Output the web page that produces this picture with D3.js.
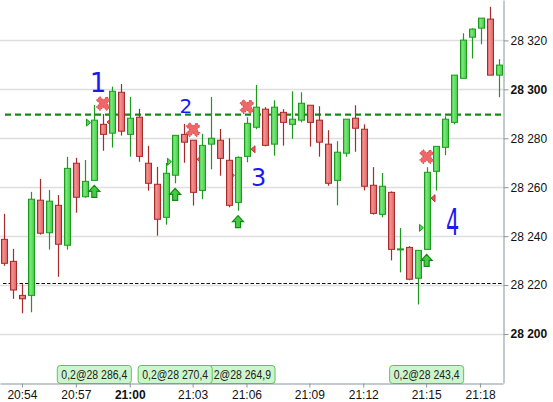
<!DOCTYPE html>
<html><head><meta charset="utf-8">
<script src="https://cdn.jsdelivr.net/npm/d3@7"></script>
<style>html,body{margin:0;padding:0;background:#fff;overflow:hidden}text{font-family:"Liberation Sans",Arial,sans-serif}</style>
</head><body><svg id="c" width="553" height="402"></svg>
<script>
// ---- data ----
const openP = [
28238.7, 28229.7, 28215.8, 28215.8, 28254.7, 28241.4, 28252.6, 28236.3, 28269.8, 28256.1,
28262.8, 28285.7, 28282.1, 28298.8, 28281.6, 28288.6, 28269.8, 28261.2, 28247.7, 28264.9,
28281.6, 28279.2, 28258.7, 28277.6, 28279.2, 28271.0, 28253.8, 28272.6, 28284.5, 28291.9,
28277.6, 28290.6, 28285.7, 28287.4, 28293.5, 28287.4, 28277.6, 28262.8, 28273.9, 28288.2,
28283.7, 28260.8, 28248.9, 28257.9, 28234.7, 28235.4, 28222.8, 28234.6, 28266.5, 28276.3,
28286.5, 28304.5, 28321.3, 28325.0, 28328.7, 28305.8];
const closeP = [
28228.9, 28218.0, 28214.4, 28255.1, 28241.2, 28254.3, 28236.7, 28267.7, 28255.9, 28262.4,
28287.4, 28281.6, 28299.2, 28282.9, 28288.2, 28272.6, 28261.6, 28246.9, 28265.7, 28281.2,
28278.4, 28257.9, 28277.1, 28280.0, 28271.8, 28252.6, 28272.2, 28286.1, 28292.7, 28277.1,
28292.7, 28286.5, 28287.8, 28294.3, 28286.5, 28278.4, 28261.6, 28274.3, 28287.8, 28284.1,
28260.4, 28249.3, 28260.4, 28234.6, 28234.8, 28222.4, 28234.2, 28266.1, 28276.7, 28287.8,
28305.8, 28320.1, 28324.6, 28329.1, 28305.8, 28309.9];
const highP = [
28249.1, 28234.8, 28220.4, 28258.1, 28263.4, 28258.9, 28256.8, 28272.4, 28272.0, 28271.1,
28293.6, 28289.9, 28301.1, 28302.2, 28296.9, 28292.0, 28276.9, 28268.3, 28269.9, 28281.2,
28285.9, 28279.2, 28281.8, 28296.9, 28283.8, 28280.0, 28272.6, 28288.6, 28301.8, 28292.7,
28295.5, 28291.9, 28299.2, 28298.8, 28293.5, 28293.1, 28283.3, 28278.8, 28287.8, 28293.5,
28285.7, 28268.2, 28265.8, 28258.3, 28243.3, 28235.9, 28234.2, 28268.2, 28276.7, 28289.0,
28305.8, 28322.9, 28325.0, 28329.1, 28333.7, 28312.3];
const lowP = [
28227.9, 28214.4, 28208.5, 28208.9, 28240.6, 28234.5, 28223.4, 28234.5, 28249.6, 28255.7,
28262.8, 28274.9, 28276.2, 28281.1, 28272.5, 28270.4, 28258.6, 28240.2, 28244.7, 28261.6,
28270.0, 28252.5, 28255.1, 28267.3, 28264.7, 28251.8, 28250.4, 28270.2, 28283.7, 28276.7,
28272.9, 28277.0, 28279.8, 28286.5, 28276.6, 28272.5, 28260.6, 28252.6, 28272.5, 28274.5,
28258.7, 28248.8, 28247.7, 28230.1, 28225.2, 28222.0, 28212.1, 28234.6, 28258.7, 28273.1,
28285.7, 28304.5, 28312.6, 28318.4, 28305.8, 28296.8];

const tickIdx = [2, 8, 14, 21, 27, 34, 40, 47, 53];
const tickLabels = ["20:54", "20:57", "21:00", "21:03", "21:06", "21:09", "21:12", "21:15", "21:18"];
const yTicks = [28200, 28220, 28240, 28260, 28280, 28300, 28320];

const entryIdx = [10, 19, 26, 47];
const entryPrice = [28286.4, 28270.4, 28264.9, 28243.4];
const exitIdx = [11, 21, 27, 47];
const exitPrice = [28286.6, 28271.4, 28275.5, 28255.5];
const tradeQty = ["0,2", "0,2", "0,2", "0,2"];

const greenLevel = 28289.7;
const blackLevel = 28220.7;

const noteText = ["1", "2", "3", "4"];
const noteIdx = [10.4, 20.2, 28.3, 49.9];
const notePrice = [28298.9, 28290.4, 28260.5, 28240.5];

// ---- chart ----
const plotR = 503, plotB = 383;
const svg = d3.select("#c");
const n = openP.length;
const x = d3.scaleBand().domain(d3.range(n)).range([0, plotR]).paddingInner(0.33).paddingOuter(0.165);
const cx = i => x(i) + x.bandwidth() / 2;
const fx = v => x.step() * (v + 0.5);
const y = d3.scaleLinear().domain([28180, 28336.5]).range([plotB, 0]);
const loc = d3.formatLocale({decimal: ",", thousands: " ", grouping: [3], currency: ["", ""]});
const fmtTick = loc.format(",");
const fmtPrice = loc.format(",.1f");

const defs = svg.append("defs");
function grad(id, c1, c2) {
  const g = defs.append("linearGradient").attr("id", id).attr("x1", 0).attr("x2", 1).attr("y1", 0).attr("y2", 0);
  g.append("stop").attr("offset", 0).attr("stop-color", c2);
  g.append("stop").attr("offset", 0.35).attr("stop-color", c1);
  g.append("stop").attr("offset", 1).attr("stop-color", c2);
}
grad("gUp", "#78e878", "#44c944");
grad("gDn", "#f29090", "#e06060");

// gridlines
svg.append("g").selectAll("line").data(yTicks).join("line")
  .attr("x1", 0).attr("x2", plotR)
  .attr("y1", d => Math.round(y(d)) + 0.5).attr("y2", d => Math.round(y(d)) + 0.5)
  .attr("stroke", "#dedede").attr("stroke-width", 1.5);

// level lines
svg.append("line").attr("x1", 5).attr("x2", plotR).attr("y1", y(greenLevel)).attr("y2", y(greenLevel))
  .attr("stroke", "#148a14").attr("stroke-width", 2.2).attr("stroke-dasharray", "6,4");
svg.append("line").attr("x1", 3).attr("x2", plotR).attr("y1", Math.round(y(blackLevel)) + 0.5).attr("y2", Math.round(y(blackLevel)) + 0.5)
  .attr("stroke", "#111").attr("stroke-width", 1).attr("stroke-dasharray", "3.5,2");

// exit & entry triangles (under candles)
const tri = svg.append("g");
entryIdx.forEach((ix, k) => {
  const X = Math.round(cx(ix)) - 3.5, Y = y(entryPrice[k]);
  tri.append("path").attr("d", `M${X},${Y} L${X - 4},${Y - 3.5} L${X - 4},${Y + 3.5} Z`)
    .attr("fill", "#55d455").attr("stroke", "#1c9a1c").attr("stroke-width", 1);
});
exitIdx.forEach((ix, k) => {
  const X = Math.round(cx(ix)) + 4, Y = y(exitPrice[k]);
  tri.append("path").attr("d", `M${X},${Y} L${X + 4},${Y - 3.5} L${X + 4},${Y + 3.5} Z`)
    .attr("fill", "#e85a5a").attr("stroke", "#c03030").attr("stroke-width", 1);
});

// candles
const data = d3.range(n).map(i => ({i, o: openP[i], h: highP[i], l: lowP[i], c: closeP[i]}));
const cg = svg.append("g");
cg.selectAll("line").data(data).join("line")
  .attr("x1", d => Math.round(cx(d.i)) + 0.5).attr("x2", d => Math.round(cx(d.i)) + 0.5)
  .attr("y1", d => y(d.h)).attr("y2", d => y(d.l))
  .attr("stroke", d => d.c >= d.o ? "#1c9a1c" : "#a52a2a").attr("stroke-width", 1.2);
const bw = Math.round(x.bandwidth());
cg.selectAll("rect").data(data).join("rect")
  .attr("x", d => Math.round(cx(d.i)) - bw / 2 + 0.5)
  .attr("width", bw)
  .attr("y", d => y(Math.max(d.o, d.c)))
  .attr("height", d => Math.max(1, Math.abs(y(d.o) - y(d.c))))
  .attr("fill", d => d.c >= d.o ? "url(#gUp)" : "url(#gDn)")
  .attr("stroke", d => d.c >= d.o ? "#1c9a1c" : "#a52a2a").attr("stroke-width", 1);

// arrows and crosses
const mk = svg.append("g");
entryIdx.forEach((ix, k) => {
  const X = cx(ix), Y = y(lowP[ix]) + 11;
  mk.append("path").attr("transform", `translate(${X},${Y})`)
    .attr("d", "M0,-6 L5.5,0 L2.5,0 L2.5,6 L-2.5,6 L-2.5,0 L-5.5,0 Z")
    .attr("fill", "#44cc44").attr("stroke", "#138a13").attr("stroke-width", 1.2);
});
exitIdx.forEach((ix, k) => {
  const X = cx(ix), Y = y(highP[ix]) - 10.5;
  mk.append("path").attr("transform", `translate(${X},${Y}) rotate(45)`)
    .attr("d", d3.symbol(d3.symbolCross, 115)())
    .attr("fill", "#ef6767").attr("stroke", "#d24848").attr("stroke-width", 1).attr("stroke-dasharray", "1.5,1");
});

// annotations
const noteSize = [26, 20, 24, 26];
noteText.forEach((t, k) => {
  svg.append("text").attr("x", fx(noteIdx[k])).attr("y", y(notePrice[k]))
    .attr("text-anchor", "middle").attr("fill", "#1a1af0")
    .style("font-family", "'DejaVu Sans'").style("font-size", noteSize[k] + "px")
    .attr("transform", k === 3 ? `translate(${fx(noteIdx[k])},${y(notePrice[k])}) scale(0.8,1.45) translate(${-fx(noteIdx[k])},${-y(notePrice[k])})` : null)
    .text(t);
});

// axes
const axCol = "#8a959c";
const yAx = svg.append("g").attr("transform", `translate(${plotR + 0.5},0)`)
  .call(d3.axisRight(y).tickValues(yTicks).tickSize(5).tickSizeOuter(0).tickFormat(fmtTick));
yAx.select(".domain").attr("stroke", axCol);
yAx.selectAll(".tick line").attr("stroke", axCol);
yAx.selectAll(".tick text").attr("fill", "#111").attr("x", 7)
  .style("font-size", "12px").style("font-family", "'Liberation Sans',Arial,sans-serif")
  .style("font-weight", d => d % 100 === 0 ? "bold" : "normal");

const xAx = svg.append("g").attr("transform", `translate(0,${plotB + 0.5})`)
  .call(d3.axisBottom(x).tickValues(tickIdx).tickSize(4).tickSizeOuter(0).tickFormat((d, i) => tickLabels[tickIdx.indexOf(d)]));
xAx.select(".domain").attr("stroke", axCol);
xAx.selectAll(".tick line").attr("stroke", axCol);
xAx.selectAll(".tick text").attr("fill", "#111")
  .style("font-size", "12px").style("font-family", "'Liberation Sans',Arial,sans-serif")
  .style("font-weight", d => tickLabels[tickIdx.indexOf(d)].endsWith(":00") ? "bold" : "normal");

// trade labels (earlier ones on top)
const lg = svg.append("g");
const boxW = 74, txtW = 66;
const boxes = entryIdx.map((ix, k) => ({k, X: cx(ix)}));
for (let k = boxes.length - 1; k >= 0; k--) {
  const X = boxes[k].X;
  const g = lg.append("g");
  // clip text to the part not covered by the next-left box
  let clipL = X - boxW / 2;
  if (k > 0 && boxes[k - 1].X + boxW / 2 > clipL) clipL = boxes[k - 1].X + boxW / 2 + 0.5;
  const cid = "clip" + k;
  defs.append("clipPath").attr("id", cid).append("rect")
    .attr("x", clipL).attr("y", plotB - 20).attr("width", X + boxW / 2 - clipL).attr("height", 22);
  g.append("rect").attr("x", X - boxW / 2).attr("y", plotB - 17.5).attr("width", boxW).attr("height", 18)
    .attr("rx", 3).attr("fill", "#cdf5cd").attr("stroke", "#5cc45c").attr("stroke-width", 1);
  g.append("text").attr("x", X).attr("y", plotB - 4).attr("text-anchor", "middle")
    .attr("clip-path", `url(#${cid})`)
    .attr("textLength", txtW).attr("lengthAdjust", "spacingAndGlyphs")
    .attr("fill", "#222").style("font-size", "12px")
    .text(tradeQty[k] + "@" + fmtPrice(entryPrice[k]));
}
xAx.raise();
</script></body></html>
